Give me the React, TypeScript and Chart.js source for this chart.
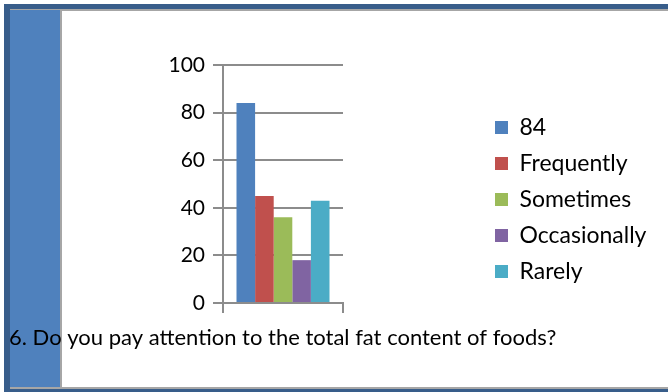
import React, { useEffect, useRef } from "react";
import { Chart, registerables } from "chart.js";

Chart.register(...registerables);

// Survey answers: one category, one bar per answer option
const categories = [""];
const seriesLabels = ["84", "Frequently", "Sometimes", "Occasionally", "Rarely"];
const seriesValues = [84, 45, 36, 18, 43];
const seriesColors = ["#4F81BD", "#C0504D", "#9BBB59", "#8064A2", "#4BACC6"];
const yMin = 0;
const yMax = 100;
const yStep = 20;
const questionText = "6. Do you pay attention to the total fat content of foods?";

const FONT = "Lato, 'Open Sans', sans-serif";
const GRID = "#8C8C8C";

// Where the legend block sits on the canvas
const legendBox = { left: 482, top: 103, width: 185 };

const placeLegend = {
  id: "placeLegend",
  afterLayout(chart: any) {
    const lg = chart.legend;
    if (!lg) return;
    const h = lg.height;
    lg.width = legendBox.width;
    lg.left = legendBox.left;
    lg.right = legendBox.left + legendBox.width;
    lg.top = legendBox.top;
    lg.bottom = legendBox.top + h;
  },
};

export default function App() {
  const canvasRef = useRef<HTMLCanvasElement | null>(null);

  useEffect(() => {
    const canvas = canvasRef.current;
    if (!canvas) return;
    const chart = new Chart(canvas, {
      type: "bar",
      data: {
        labels: categories,
        datasets: seriesLabels.map((label, i) => ({
          label,
          data: [seriesValues[i]],
          backgroundColor: seriesColors[i],
          borderColor: seriesColors[i],
          borderWidth: 0,
          categoryPercentage: 0.775,
          barPercentage: 1,
        })),
      },
      options: {
        responsive: false,
        animation: false,
        events: [],
        layout: { padding: { left: 9, right: 0, top: 65, bottom: 0 } },
        scales: {
          x: {
            grid: {
              drawOnChartArea: false,
              drawTicks: true,
              tickLength: 10,
              color: GRID,
              lineWidth: 2,
              offset: true,
            },
            border: { display: true, color: GRID, width: 2 },
            ticks: { display: false },
          },
          y: {
            min: yMin,
            max: yMax,
            ticks: {
              stepSize: yStep,
              padding: 8,
              color: "#000",
              font: { family: FONT, size: 21 },
            },
            grid: { color: GRID, lineWidth: 2, tickLength: 10 },
            border: { color: GRID, width: 2 },
            afterFit: (s: any) => {
              s.width = 214;
            },
          },
          // empty right-hand band that holds the space used by the legend
          side: {
            type: "linear",
            position: "right",
            display: true,
            grid: { display: false, drawTicks: false },
            ticks: { display: false },
            border: { display: false },
            afterFit: (s: any) => {
              s.width = 325;
            },
          },
        },
        plugins: {
          legend: {
            position: "chartArea" as any,
            align: "start",
            labels: {
              boxWidth: 13,
              boxHeight: 13,
              padding: 13,
              color: "#000",
              font: { family: FONT, size: 23 },
            },
          },
          title: {
            display: true,
            text: questionText,
            position: "bottom",
            align: "start",
            color: "#000",
            font: { family: FONT, size: 22, weight: "normal" },
            padding: { top: 11.6, bottom: 41 },
          },
          tooltip: { enabled: false },
        },
      },
      plugins: [placeLegend],
    });
    return () => chart.destroy();
  }, []);

  return (
    <div style={{ position: "absolute", left: 0, top: 0, width: 668, height: 392, overflow: "hidden", background: "#fff" }}>
      {/* slide frame */}
      <div style={{ position: "absolute", left: 4, top: 4, width: 700, height: 388, background: "#385D8A" }} />
      <div style={{ position: "absolute", left: 10, top: 9, width: 700, height: 380, background: "#A6A6A6" }} />
      <div style={{ position: "absolute", left: 10, top: 10, width: 50, height: 377, background: "#4F81BD" }} />
      <div style={{ position: "absolute", left: 62, top: 11, width: 700, height: 376, background: "#FFFFFF" }} />
      <canvas
        ref={canvasRef}
        width={668}
        height={392}
        style={{ position: "absolute", left: 0, top: 0, width: 668, height: 392 }}
      />
    </div>
  );
}
